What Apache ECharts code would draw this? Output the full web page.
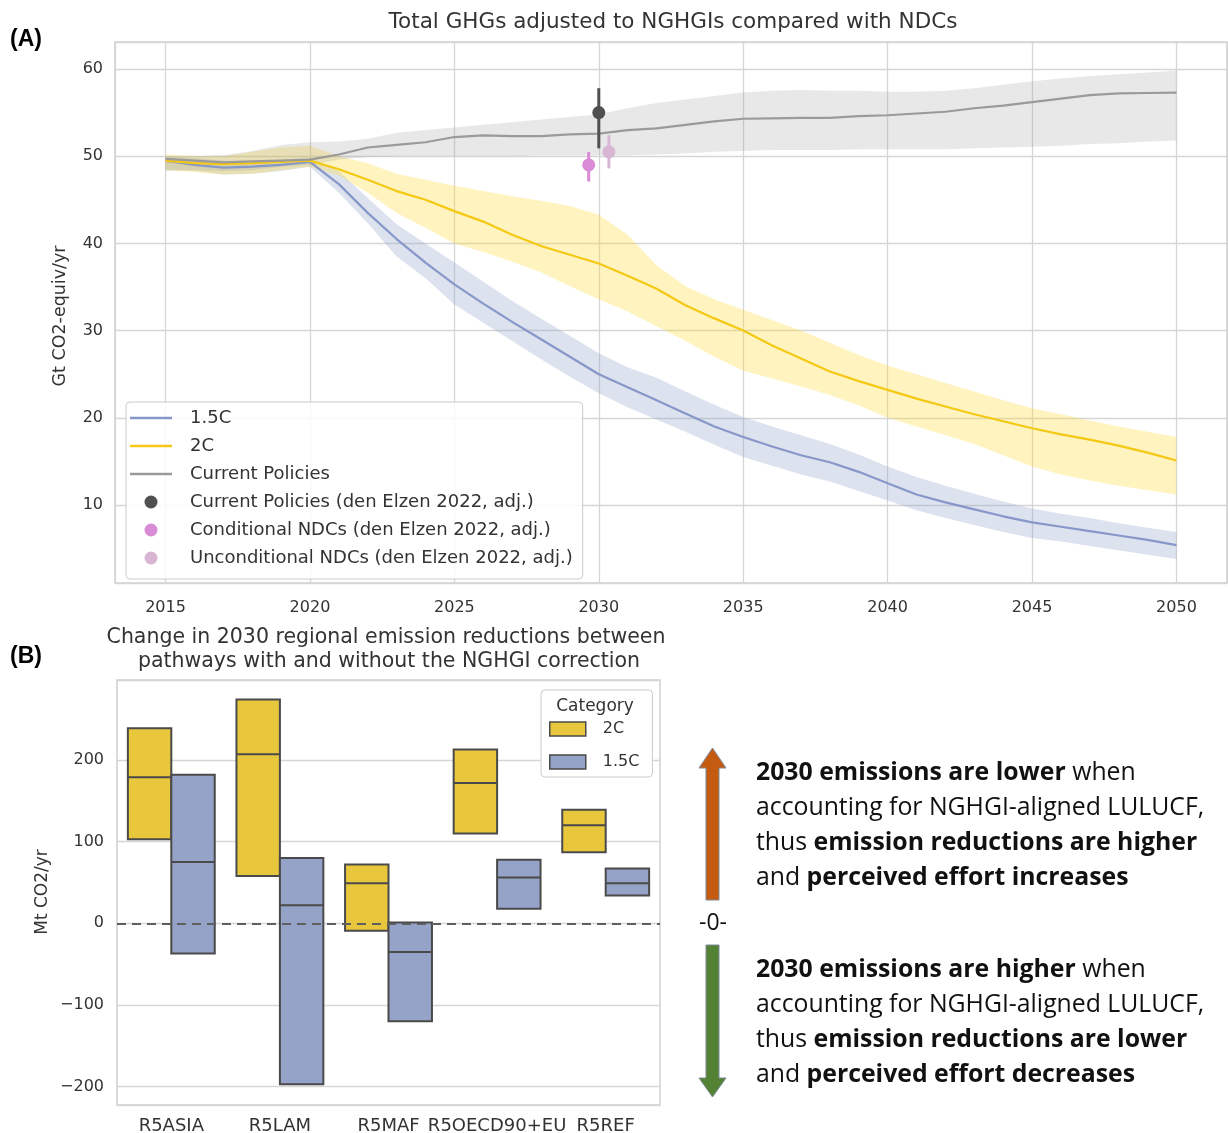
<!DOCTYPE html>
<html>
<head>
<meta charset="utf-8">
<script src="https://cdn.jsdelivr.net/npm/echarts@6/dist/echarts.min.js"></script>
<style>
html,body{margin:0;padding:0;background:#fff;}
#chart{width:1228px;height:1133px;}
</style>
</head>
<body>
<div id="chart"></div>
<script>
// ---------- Panel A data ----------
const years = [2015,2016,2017,2018,2019,2020,2021,2022,2023,2024,2025,2026,2027,2028,2029,2030,2031,2032,2033,2034,2035,2036,2037,2038,2039,2040,2041,2042,2043,2044,2045,2046,2047,2048,2049,2050];

const cpMid = [49.7,49.5,49.3,49.4,49.5,49.6,50.2,51.0,51.3,51.6,52.2,52.4,52.3,52.3,52.5,52.6,53.0,53.2,53.6,54.0,54.3,54.35,54.4,54.4,54.6,54.7,54.9,55.1,55.5,55.8,56.2,56.6,57.0,57.2,57.25,57.3];
const cpLo  = [48.3,48.4,48.3,48.4,48.8,49.0,49.6,49.9,50.0,50.0,50.0,50.0,50.0,50.1,50.1,50.1,50.1,50.2,50.3,50.5,50.6,50.7,50.7,50.7,50.8,50.8,50.8,50.8,50.9,51.0,51.1,51.2,51.4,51.5,51.7,51.8];
const cpHi  = [50.0,50.0,50.1,50.6,51.3,51.6,51.7,52.0,52.7,53.0,53.3,53.6,53.9,54.2,54.5,54.8,55.5,56.1,56.5,56.9,57.3,57.5,57.6,57.5,57.5,57.4,57.4,57.5,57.8,58.2,58.6,58.9,59.2,59.4,59.6,59.8];

const c2Mid = [49.5,49.2,49.1,49.2,49.35,49.5,48.5,47.3,46.0,45.0,43.7,42.5,41.0,39.7,38.7,37.7,36.3,34.8,32.9,31.4,30.0,28.3,26.8,25.3,24.2,23.2,22.2,21.3,20.4,19.6,18.8,18.1,17.5,16.8,16.0,15.1];
const c2Lo  = [48.4,48.2,47.9,48.0,48.4,48.8,47.8,45.8,43.5,41.8,40.0,39.0,37.9,36.7,35.1,33.6,32.2,30.5,28.8,27.0,25.4,24.5,23.6,22.6,21.4,20.0,19.0,18.0,17.0,15.7,14.4,13.5,12.8,12.2,11.7,11.2];
const c2Hi  = [50.2,50.0,50.0,50.5,51.0,51.2,50.0,49.2,48.0,47.3,46.6,46.0,45.4,44.9,44.3,43.3,41.0,37.5,35.1,33.6,32.4,31.2,30.0,28.6,27.2,26.0,25.0,24.0,23.0,22.0,21.1,20.4,19.7,19.0,18.4,17.8];

const c15Mid = [49.5,49.0,48.7,48.8,49.0,49.35,46.8,43.5,40.5,37.8,35.3,33.1,31.0,29.0,27.0,25.0,23.5,22.0,20.5,19.0,17.8,16.7,15.7,14.9,13.8,12.5,11.2,10.3,9.5,8.7,8.0,7.5,7.0,6.5,6.0,5.4];
const c15Lo  = [48.5,48.3,47.9,48.0,48.3,48.8,45.8,42.3,38.5,36.0,33.0,30.9,28.8,26.7,24.7,22.8,21.2,19.8,18.4,16.9,15.5,14.5,13.5,12.7,11.6,10.5,9.4,8.5,7.7,6.9,6.2,5.8,5.3,4.8,4.3,3.8];
const c15Hi  = [50.0,49.8,49.5,49.3,49.6,49.8,48.3,45.2,42.2,40.0,37.8,35.6,33.4,31.4,29.4,27.4,25.8,24.6,23.0,21.5,20.1,19.0,18.0,17.0,15.8,14.4,13.2,12.2,11.3,10.4,9.6,9.0,8.5,7.9,7.4,6.9];

// den Elzen 2022 (adj.) points: CP, conditional NDC, unconditional NDC
const ptNames = ['Current Policies (den Elzen 2022, adj.)','Conditional NDCs (den Elzen 2022, adj.)','Unconditional NDCs (den Elzen 2022, adj.)'];
const ptX  = [2030.0, 2029.65, 2030.35];
const ptY  = [55.0, 49.0, 50.5];
const ptLo = [50.9, 47.1, 48.6];
const ptHi = [57.8, 50.5, 52.4];

const xTicksA = [2015,2020,2025,2030,2035,2040,2045,2050];
const yTicksA = [10,20,30,40,50,60];

// ---------- Panel B data ----------
const regions = ['R5ASIA','R5LAM','R5MAF','R5OECD90+EU','R5REF'];
const b2Q1  = [103, 58, -9, 110, 87];
const b2Med = [179, 207, 49, 172, 120];
const b2Q3  = [239, 274, 72, 213, 139];
const b15Q1  = [-37, -197, -120, 18, 34];
const b15Med = [75, 22, -35, 56, 49];
const b15Q3  = [182, 80, 1, 78, 67];
const yTicksB = [-200,-100,0,100,200];

// ---------- styles ----------
const FONT = 'DejaVu Sans';
const TXT = '#333333';
const GRIDC = '#d6d6d6';
const C15 = '#8797c9', C2 = '#f5c814', CPC = '#9a9a9a';
const BAND15 = 'rgba(141,160,203,0.30)', BAND2 = 'rgba(255,217,47,0.30)', BANDCP = 'rgba(150,150,150,0.22)';
const PTC = ['#505050', '#d98bd6', '#d7b5d3'];
const BOX2 = '#e8c73d', BOX15 = '#94a3c7', EDGE = '#4a4a4a';
const LINE_ICON = 'path://M0,0H42V2.4H0Z';

const chart = echarts.init(document.getElementById('chart'), null, {renderer:'canvas'});

function bandSeries(lo, hi, color){
  return {
    type:'custom', xAxisIndex:0, yAxisIndex:0, silent:true, z:1,
    data: years.map((y,i)=>[y, lo[i], hi[i]]),
    encode:{x:0, y:[1,2]},
    renderItem:function(params, api){
      if (params.dataIndex !== 0) return null;
      const pts = [];
      for (let i=0;i<years.length;i++) pts.push(api.coord([years[i], hi[i]]));
      for (let i=years.length-1;i>=0;i--) pts.push(api.coord([years[i], lo[i]]));
      return {type:'polygon', shape:{points:pts}, style:{fill:color}};
    }
  };
}
function lineSeries(name, mid, color){
  return {
    name:name, type:'line', xAxisIndex:0, yAxisIndex:0, z:2,
    data: years.map((y,i)=>[y, mid[i]]),
    symbol:'none', showSymbol:false, smooth:false,
    lineStyle:{color:color, width:2.2}, itemStyle:{color:color}
  };
}
function errSeries(k){
  return {
    type:'custom', xAxisIndex:0, yAxisIndex:0, silent:true, z:3,
    data:[[ptX[k], ptLo[k], ptHi[k]]],
    encode:{x:0, y:[1,2]},
    renderItem:function(params, api){
      const a = api.coord([api.value(0), api.value(1)]);
      const b = api.coord([api.value(0), api.value(2)]);
      return {type:'line', shape:{x1:a[0], y1:a[1], x2:b[0], y2:b[1]}, style:{stroke:PTC[k], lineWidth:3}};
    }
  };
}
function ptSeries(k){
  return {
    name:ptNames[k], type:'scatter', xAxisIndex:0, yAxisIndex:0, z:4,
    data:[[ptX[k], ptY[k]]], symbol:'circle', symbolSize:13,
    itemStyle:{color:PTC[k], opacity:1}
  };
}
function boxSeries(name, q1, med, q3, fill, side){
  return {
    name:name, type:'custom', xAxisIndex:1, yAxisIndex:1, z:2,
    data: regions.map((r,i)=>[i, q1[i], med[i], q3[i]]),
    encode:{x:0, y:[1,2,3]},
    itemStyle:{color:fill, borderColor:EDGE, borderWidth:1.5},
    renderItem:function(params, api){
      const x = api.value(0);
      const pT = api.coord([x, api.value(3)]);
      const pB = api.coord([x, api.value(1)]);
      const pM = api.coord([x, api.value(2)]);
      const bw = api.size([1,0])[0];
      const w = bw*0.4;
      const left = side<0 ? pT[0]-w : pT[0];
      return {type:'group', children:[
        {type:'rect', shape:{x:left, y:pT[1], width:w, height:pB[1]-pT[1]}, style:{fill:fill, stroke:EDGE, lineWidth:2}},
        {type:'line', shape:{x1:left, y1:pM[1], x2:left+w, y2:pM[1]}, style:{stroke:EDGE, lineWidth:2}}
      ]};
    }
  };
}

const zeroMark = {
  silent:true, symbol:'none', z:10,
  label:{show:false},
  lineStyle:{type:[9,6], color:'#5f5f5f', width:2},
  data:[{yAxis:0}]
};

const b2 = boxSeries('2C ', b2Q1, b2Med, b2Q3, BOX2, -1);
const b15 = boxSeries('1.5C ', b15Q1, b15Med, b15Q3, BOX15, 1);
b15.markLine = zeroMark;

const rightText1 = '{b|2030 emissions are lower}{n| when}\n{n|accounting for NGHGI-aligned LULUCF,}\n{n|thus }{b|emission reductions are higher}\n{n|and }{b|perceived effort increases}';
const rightText2 = '{b|2030 emissions are higher}{n| when}\n{n|accounting for NGHGI-aligned LULUCF,}\n{n|thus }{b|emission reductions are lower}\n{n|and }{b|perceived effort decreases}';
const RF = 'Open Sans', RS = 24.8, RLH = 34.7;
const richStyles = {
  b:{fontFamily:RF, fontWeight:'bold', fontSize:RS, lineHeight:RLH, color:'#111'},
  n:{fontFamily:RF, fontWeight:'normal', fontSize:RS, lineHeight:RLH, color:'#111'}
};

const option = {
  animation:false,
  backgroundColor:'#ffffff',
  grid:[
    {left:115, top:42, width:1112, height:541, show:true, borderColor:'#d0d0d0', borderWidth:1.5, containLabel:false, outerBoundsMode:'none'},
    {left:117, top:680, width:543, height:425, show:true, borderColor:'#d0d0d0', borderWidth:1.5, containLabel:false, outerBoundsMode:'none'}
  ],
  xAxis:[
    {gridIndex:0, type:'value', min:2013.25, max:2051.75, minInterval:5, maxInterval:5,
     axisLine:{show:false}, axisTick:{show:false},
     splitLine:{show:true, lineStyle:{color:GRIDC, width:1.3}},
     axisLabel:{fontFamily:FONT, fontSize:16, color:TXT, margin:17,
       formatter:function(v){ return xTicksA.indexOf(Math.round(v*100)/100)>=0 ? String(v) : ''; }}},
    {gridIndex:1, type:'category', data:regions, boundaryGap:true,
     axisLine:{show:false}, axisTick:{show:false}, splitLine:{show:false},
     axisLabel:{fontFamily:FONT, fontSize:18, color:TXT, margin:12, interval:0}}
  ],
  yAxis:[
    {gridIndex:0, type:'value', min:1.05, max:63.1, minInterval:10, maxInterval:10,
     axisLine:{show:false}, axisTick:{show:false},
     splitLine:{show:true, lineStyle:{color:GRIDC, width:1.3}},
     axisLabel:{fontFamily:FONT, fontSize:16, color:TXT, margin:12,
       formatter:function(v){ return yTicksA.indexOf(Math.round(v*100)/100)>=0 ? String(v) : ''; }}},
    {gridIndex:1, type:'value', min:-222.5, max:298, minInterval:100, maxInterval:100,
     axisLine:{show:false}, axisTick:{show:false},
     splitLine:{show:true, lineStyle:{color:GRIDC, width:1.3}},
     axisLabel:{fontFamily:FONT, fontSize:16, color:TXT, margin:13,
       formatter:function(v){ const r=Math.round(v*100)/100; if (yTicksB.indexOf(r)<0) return ''; return r<0 ? '\u2212'+Math.abs(r) : String(r); }}}
  ],
  legend:[
    {data:[{name:'1.5C', icon:LINE_ICON}, {name:'2C', icon:LINE_ICON}, {name:'Current Policies', icon:LINE_ICON}].concat(ptNames.map(n=>({name:n, icon:'circle'}))),
     left:126, top:402, orient:'vertical',
     itemWidth:42, itemHeight:13, itemGap:10, padding:[7,10,12,4], selectedMode:false,
     backgroundColor:'rgba(255,255,255,0.85)', borderColor:'#cccccc', borderWidth:1, borderRadius:4,
     textStyle:{fontFamily:FONT, fontSize:18, lineHeight:17, color:TXT, padding:[0,0,0,13]}},
    {data:[{name:'2C ', icon:'rect', itemStyle:{color:BOX2, borderColor:EDGE, borderWidth:1.5}},
           {name:'1.5C ', icon:'rect', itemStyle:{color:BOX15, borderColor:EDGE, borderWidth:1.5}}],
     left:541, top:690, orient:'vertical', itemWidth:36, itemHeight:14, itemGap:17,
     padding:[31,8,7,8], selectedMode:false,
     backgroundColor:'#ffffff', borderColor:'#cccccc', borderWidth:1, borderRadius:4,
     textStyle:{fontFamily:FONT, fontSize:16, color:TXT, padding:[0,0,0,12]}}
  ],
  series:[
    bandSeries(c15Lo, c15Hi, BAND15),
    lineSeries('1.5C', c15Mid, C15),
    bandSeries(c2Lo, c2Hi, BAND2),
    lineSeries('2C', c2Mid, C2),
    bandSeries(cpLo, cpHi, BANDCP),
    lineSeries('Current Policies', cpMid, CPC),
    errSeries(0), errSeries(1), errSeries(2),
    ptSeries(0), ptSeries(1), ptSeries(2),
    b2, b15
  ],
  graphic:[
    {type:'text', x:673, y:22, style:{text:'Total GHGs adjusted to NGHGIs compared with NDCs', font:'21.5px "DejaVu Sans"', fill:TXT, align:'center', verticalAlign:'middle'}},
    {type:'text', x:60, y:316, rotation:Math.PI/2, style:{text:'Gt CO2-equiv/yr', font:'17.5px "DejaVu Sans"', fill:TXT, align:'center', verticalAlign:'middle'}},
    {type:'text', x:386, y:638, style:{text:'Change in 2030 regional emission reductions between', font:'20.5px "DejaVu Sans"', fill:TXT, align:'center', verticalAlign:'middle'}},
    {type:'text', x:389, y:662, style:{text:'pathways with and without the NGHGI correction', font:'20.5px "DejaVu Sans"', fill:TXT, align:'center', verticalAlign:'middle'}},
    {type:'text', x:43, y:892, rotation:Math.PI/2, style:{text:'Mt CO2/yr', font:'17px "DejaVu Sans"', fill:TXT, align:'center', verticalAlign:'middle'}},
    {type:'text', x:595, y:707, z:100, style:{text:'Category', font:'17px "DejaVu Sans"', fill:TXT, align:'center', verticalAlign:'middle'}},
    {type:'text', x:10, y:40, style:{text:'(A)', font:'bold 23px "Liberation Sans"', fill:'#000', align:'left', verticalAlign:'middle'}},
    {type:'text', x:10, y:657, style:{text:'(B)', font:'bold 23px "Liberation Sans"', fill:'#000', align:'left', verticalAlign:'middle'}},
    {type:'polygon', shape:{points:[[712.5,748],[726,768],[719,768],[719,900],[706,900],[706,768],[699,768]]}, style:{fill:'#c55a11', stroke:'#7d8a98', lineWidth:1}},
    {type:'polygon', shape:{points:[[706,945],[719,945],[719,1078],[726,1078],[712.5,1097],[699,1078],[706,1078]]}, style:{fill:'#548235', stroke:'#7d8a98', lineWidth:1}},
    {type:'text', x:713, y:923, style:{text:'-0-', font:'23px "Open Sans"', fill:'#111', align:'center', verticalAlign:'middle'}},
    {type:'text', x:756, y:756, style:{text:rightText1, rich:richStyles, fontFamily:RF, fontSize:RS, lineHeight:RLH, fill:'#111', align:'left', verticalAlign:'top'}},
    {type:'text', x:756, y:953, style:{text:rightText2, rich:richStyles, fontFamily:RF, fontSize:RS, lineHeight:RLH, fill:'#111', align:'left', verticalAlign:'top'}}
  ]
};
chart.setOption(option);
</script>
</body>
</html>
